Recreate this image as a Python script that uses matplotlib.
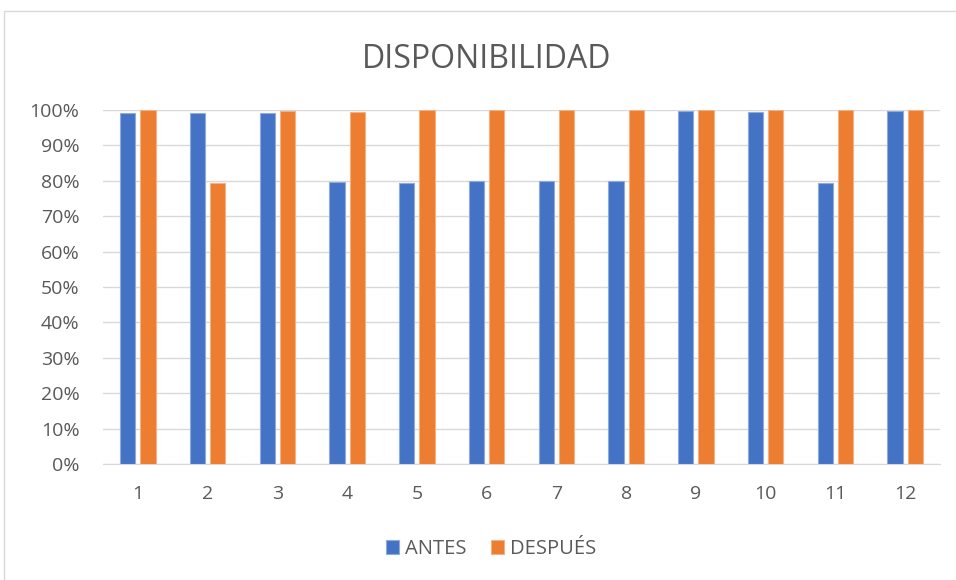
import matplotlib
matplotlib.use("Agg")
import matplotlib.pyplot as plt
import numpy as np
from matplotlib.patches import Rectangle
from matplotlib.ticker import PercentFormatter

# data
meses = ["1", "2", "3", "4", "5", "6", "7", "8", "9", "10", "11", "12"]
antes = [99.3, 99.3, 99.3, 79.6, 79.5, 79.9, 79.9, 79.9, 99.7, 99.5, 79.4, 99.8]
despues = [100, 79.5, 99.6, 99.5, 100, 100, 100, 100, 100, 100, 100, 100]

azul = "#4472C4"
naranja = "#ED7D31"
gris = "#595959"

plt.rcParams["font.family"] = ["Open Sans", "DejaVu Sans"]

fig = plt.figure(figsize=(9.56, 5.8), dpi=100)
ax = fig.add_axes([0.1077, 0.2, 0.8756, 0.6103])

x = np.arange(len(meses))
w = 0.22
ax.bar(x - 0.145, antes, w, color=azul, edgecolor="#8faadc", linewidth=0.8,
       label="ANTES", zorder=3)
ax.bar(x + 0.145, despues, w, color=naranja, edgecolor="#f4b183", linewidth=0.8,
       label="DESPUÉS", zorder=3)

ax.set_xlim(-0.5, len(meses) - 0.5)
ax.set_ylim(0, 100)
ax.set_yticks(np.arange(0, 101, 10))
ax.yaxis.set_major_formatter(PercentFormatter(decimals=0))
ax.set_xticks(x)
ax.set_xticklabels(meses)
ax.grid(axis="y", color="#d9d9d9", linewidth=1, zorder=0)
for s in ["top", "right", "left"]:
    ax.spines[s].set_visible(False)
ax.spines["bottom"].set_color("#d9d9d9")
ax.tick_params(axis="both", length=0, labelsize=14, colors=gris)
ax.tick_params(axis="x", pad=15)
ax.tick_params(axis="y", pad=17)

fig.text(0.509, 0.897, "DISPONIBILIDAD", ha="center", va="center",
         fontsize=23, color=gris)

leg = fig.legend(loc="center", bbox_to_anchor=(0.514, 0.053), ncol=2,
                 frameon=False, fontsize=14.5, handlelength=0.65,
                 handleheight=0.65, handletextpad=0.3, columnspacing=1.2)
for t in leg.get_texts():
    t.set_color(gris)

# chart area border
fig.patches.append(Rectangle((4 / 956, -0.05), 1.1, 1 - 11 / 580 + 0.05,
                             transform=fig.transFigure, fill=False,
                             edgecolor="#d9d9d9", linewidth=1))

fig.savefig("out.png", dpi=100)
